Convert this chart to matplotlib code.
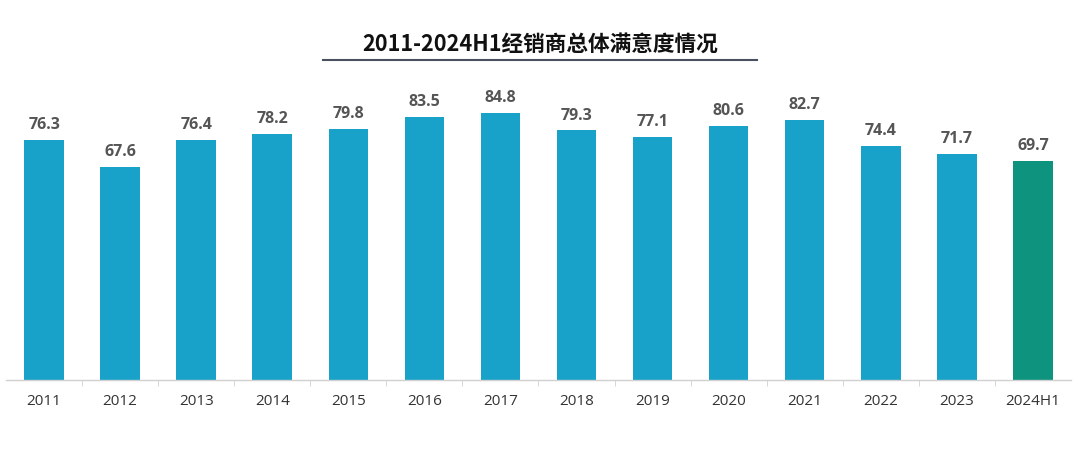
import matplotlib
matplotlib.use("Agg")
import matplotlib.pyplot as plt
from matplotlib.lines import Line2D

plt.rcParams['font.family'] = ['Noto Sans CJK SC', 'DejaVu Sans']

years = ["2011", "2012", "2013", "2014", "2015", "2016", "2017",
         "2018", "2019", "2020", "2021", "2022", "2023", "2024H1"]
scores = [76.3, 67.6, 76.4, 78.2, 79.8, 83.5, 84.8,
          79.3, 77.1, 80.6, 82.7, 74.4, 71.7, 69.7]

blue = "#18a2c9"
green = "#0e937e"
colors = [blue] * (len(years) - 1) + [green]

fig = plt.figure(figsize=(10.8, 4.63), dpi=100)
ax = fig.add_axes([0.0056, 0.179, 0.986, 0.680])

x = range(len(years))
bars = ax.bar(x, scores, width=0.52, color=colors)
for xi, v in zip(x, scores):
    ax.text(xi, v + 2.2, "{:.1f}".format(v), ha="center", va="bottom",
            fontsize=11.5, fontweight="bold", color="#555555",
            family="Open Sans")

ax.set_xlim(-0.5, len(years) - 0.5)
ax.set_ylim(0, 100)
ax.set_yticks([])
for s in ["top", "right", "left"]:
    ax.spines[s].set_visible(False)
ax.spines["bottom"].set_color("#d0d0d0")
ax.spines["bottom"].set_linewidth(1)

ax.set_xticks(list(x))
ax.set_xticklabels(years, fontsize=11, color="#333333", family="Open Sans")
ax.tick_params(axis="x", length=0, pad=10)
ax.set_xticks([i + 0.5 for i in range(len(years) - 1)], minor=True)
ax.tick_params(axis="x", which="minor", length=4, color="#d0d0d0")

fig.text(0.5, 1 - 44 / 463, "2011-2024H1经销商总体满意度情况", ha="center",
         va="center", fontsize=15.6, fontweight="bold", color="#111111")
fig.add_artist(Line2D([323 / 1080, 757 / 1080], [1 - 60 / 463, 1 - 60 / 463],
                      color="#4a5060", linewidth=1.5))

fig.savefig("out.png", dpi=100)
